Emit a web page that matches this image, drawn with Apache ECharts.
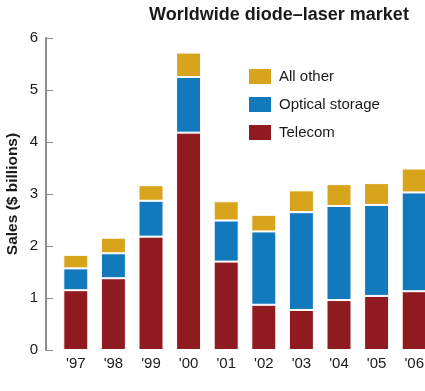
<!DOCTYPE html>
<html><head><meta charset="utf-8">
<script src="https://cdn.jsdelivr.net/npm/echarts@6/dist/echarts.min.js"></script>
<style>html,body{margin:0;padding:0;background:#fff}#c{width:425px;height:391px}</style>
</head><body><div id="c"></div>
<script>
const categories = ["'97","'98","'99","'00","'01","'02","'03","'04","'05","'06"];
const telecom = [1.15, 1.38, 2.18, 4.18, 1.70, 0.87, 0.77, 0.96, 1.04, 1.13];
const optical = [0.42, 0.48, 0.69, 1.07, 0.79, 1.41, 1.88, 1.81, 1.75, 1.90];
const other   = [0.26, 0.30, 0.30, 0.47, 0.37, 0.32, 0.42, 0.42, 0.42, 0.46];
const yTicks = [0, 1, 2, 3, 4, 5, 6];

const font = 'Liberation Sans, Arial, Helvetica, sans-serif';
const chart = echarts.init(document.getElementById('c'), null, {renderer: 'canvas'});
const itemStyle = c => ({color: c, borderColor: '#fff', borderWidth: 1});
chart.setOption({
  animation: false,
  title: {
    text: 'Worldwide diode\u2013laser market',
    left: 274, top: 1, textAlign: 'center',
    textStyle: {fontFamily: font, fontSize: 18, fontWeight: 'bold', color: '#1a1a1a'}
  },
  legend: {
    orient: 'vertical', left: 247, top: 67, padding: 0,
    itemWidth: 24, itemHeight: 17, itemGap: 9,
    data: ['All other', 'Optical storage', 'Telecom'],
    textStyle: {fontFamily: font, fontSize: 15, lineHeight: 17, color: '#1a1a1a', padding: [0,0,0,2]},
    icon: 'rect'
  },
  grid: {left: 57, top: 38, width: 376, height: 312, outerBoundsMode: 'none', containLabel: false},
  xAxis: {
    type: 'category', data: categories,
    axisLine: {show: false}, axisTick: {show: false},
    axisLabel: {fontFamily: font, fontSize: 15, color: '#1a1a1a', margin: 6}
  },
  yAxis: {
    type: 'value', min: yTicks[0], max: yTicks[yTicks.length-1], interval: 1,
    offset: 11,
    name: 'Sales ($ billions)', nameLocation: 'middle', nameGap: 25, nameRotate: 90,
    nameMoveOverlap: false,
    nameTextStyle: {fontFamily: font, fontSize: 15.5, fontWeight: 'bold', color: '#1a1a1a'},
    axisLine: {show: true, lineStyle: {color: '#8c8c8c', width: 2}},
    axisTick: {show: true, inside: true, length: 7, lineStyle: {color: '#8c8c8c', width: 1}},
    axisLabel: {fontFamily: font, fontSize: 15, color: '#1a1a1a', margin: 8},
    splitLine: {show: false}
  },
  series: [
    {name: 'Telecom', type: 'bar', stack: 's', data: telecom, barWidth: 25, itemStyle: itemStyle('#8f1a1f')},
    {name: 'Optical storage', type: 'bar', stack: 's', data: optical, barWidth: 25, itemStyle: itemStyle('#1379bd')},
    {name: 'All other', type: 'bar', stack: 's', data: other, barWidth: 25, itemStyle: itemStyle('#d8a41c')}
  ]
});
</script></body></html>
